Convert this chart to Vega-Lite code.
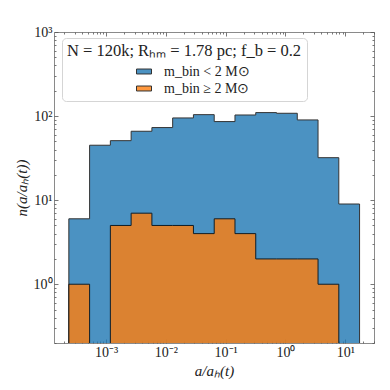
{
  "$schema": "https://vega.github.io/schema/vega-lite/v6.json",
  "width": 320,
  "height": 311,
  "autosize": {"type": "none"},
  "padding": {"left": 54, "top": 32, "right": 16, "bottom": 47},
  "background": "white",
  "config": {
    "view": {"stroke": "#8a8a8a", "strokeWidth": 1},
    "font": "Liberation Serif",
    "axis": {
      "grid": false,
      "domain": false,
      "tickColor": "#555",
      "tickWidth": 0.8,
      "labelFont": "Liberation Serif",
      "labelFontSize": 14,
      "labelColor": "#222",
      "titleFont": "Liberation Serif",
      "titleFontSize": 15,
      "titleFontWeight": "normal",
      "titleFontStyle": "italic",
      "titleColor": "#222"
    }
  },
  "datasets": {
    "hist": [
      {"a": 0.0002388, "n": 6, "s": "m_bin < 2 M⊙", "seg": 1},
      {"a": 0.0005311, "n": 45, "s": "m_bin < 2 M⊙", "seg": 1},
      {"a": 0.0011815, "n": 51, "s": "m_bin < 2 M⊙", "seg": 1},
      {"a": 0.002628, "n": 66, "s": "m_bin < 2 M⊙", "seg": 1},
      {"a": 0.005845, "n": 73, "s": "m_bin < 2 M⊙", "seg": 1},
      {"a": 0.013, "n": 95, "s": "m_bin < 2 M⊙", "seg": 1},
      {"a": 0.02892, "n": 104, "s": "m_bin < 2 M⊙", "seg": 1},
      {"a": 0.06433, "n": 86, "s": "m_bin < 2 M⊙", "seg": 1},
      {"a": 0.1431, "n": 103, "s": "m_bin < 2 M⊙", "seg": 1},
      {"a": 0.3183, "n": 110, "s": "m_bin < 2 M⊙", "seg": 1},
      {"a": 0.7079, "n": 108, "s": "m_bin < 2 M⊙", "seg": 1},
      {"a": 1.5746, "n": 90, "s": "m_bin < 2 M⊙", "seg": 1},
      {"a": 3.503, "n": 32, "s": "m_bin < 2 M⊙", "seg": 1},
      {"a": 7.791, "n": 9, "s": "m_bin < 2 M⊙", "seg": 1},
      {"a": 17.33, "n": 9, "s": "m_bin < 2 M⊙", "seg": 1},
      {"a": 0.0002388, "n": 1, "s": "m_bin ≥ 2 M⊙", "seg": 1},
      {"a": 0.0005311, "n": 1, "s": "m_bin ≥ 2 M⊙", "seg": 1},
      {"a": 0.0011815, "n": 5, "s": "m_bin ≥ 2 M⊙", "seg": 2},
      {"a": 0.002628, "n": 7, "s": "m_bin ≥ 2 M⊙", "seg": 2},
      {"a": 0.005845, "n": 5, "s": "m_bin ≥ 2 M⊙", "seg": 2},
      {"a": 0.013, "n": 5, "s": "m_bin ≥ 2 M⊙", "seg": 2},
      {"a": 0.02892, "n": 4, "s": "m_bin ≥ 2 M⊙", "seg": 2},
      {"a": 0.06433, "n": 6, "s": "m_bin ≥ 2 M⊙", "seg": 2},
      {"a": 0.1431, "n": 4, "s": "m_bin ≥ 2 M⊙", "seg": 2},
      {"a": 0.3183, "n": 2, "s": "m_bin ≥ 2 M⊙", "seg": 2},
      {"a": 0.7079, "n": 2, "s": "m_bin ≥ 2 M⊙", "seg": 2},
      {"a": 1.5746, "n": 2, "s": "m_bin ≥ 2 M⊙", "seg": 2},
      {"a": 3.503, "n": 1, "s": "m_bin ≥ 2 M⊙", "seg": 2},
      {"a": 7.791, "n": 1, "s": "m_bin ≥ 2 M⊙", "seg": 2}
    ]
  },
  "data": {"name": "hist"},
  "layer": [
    {
      "transform": [{"filter": "datum.s == 'm_bin < 2 M⊙'"}],
      "mark": {"type": "area", "interpolate": "step-after", "opacity": 0.8, "stroke": "black", "strokeWidth": 1, "clip": true},
      "encoding": {
        "x": {
          "field": "a", "type": "quantitative",
          "scale": {"type": "log", "domain": [0.0001349, 30.2], "nice": false},
          "axis": {
            "orient": "bottom",
            "title": "a/aₕ(t)",
            "values": [0.0002,0.0003,0.0004,0.0005,0.0006,0.0007,0.0008,0.0009,0.001,0.002,0.003,0.004,0.005,0.006,0.007,0.008,0.009,0.01,0.02,0.03,0.04,0.05,0.06,0.07,0.08,0.09,0.1,0.2,0.3,0.4,0.5,0.6,0.7,0.8,0.9,1,2,3,4,5,6,7,8,9,10,20,30],
            "labelExpr": "datum.value == 0.001 ? '10⁻³' : datum.value == 0.01 ? '10⁻²' : datum.value == 0.1 ? '10⁻¹' : datum.value == 1 ? '10⁰' : datum.value == 10 ? '10¹' : ''",
            "tickSize": {"condition": {"test": "indexof([0.001,0.01,0.1,1,10], datum.value) >= 0", "value": -4}, "value": -2},
            "labelPadding": 6,
            "titlePadding": 2,
            "labelFlush": false,
            "labelOverlap": false
          }
        },
        "y": {
          "field": "n", "type": "quantitative", "stack": null,
          "scale": {"type": "log", "domain": [0.2, 1000], "nice": false},
          "axis": {
            "orient": "left",
            "title": "n(a/aₕ(t))",
            "values": [0.2,0.3,0.4,0.5,0.6,0.7,0.8,0.9,1,2,3,4,5,6,7,8,9,10,20,30,40,50,60,70,80,90,100,200,300,400,500,600,700,800,900,1000],
            "labelExpr": "datum.value == 1 ? '10⁰' : datum.value == 10 ? '10¹' : datum.value == 100 ? '10²' : datum.value == 1000 ? '10³' : ''",
            "tickSize": {"condition": {"test": "indexof([1,10,100,1000], datum.value) >= 0", "value": -4}, "value": -2},
            "labelPadding": 6,
            "titlePadding": 4,
            "labelFlush": false,
            "labelOverlap": false
          }
        },
        "y2": {"datum": 0.01},
        "color": {
          "field": "s", "type": "nominal",
          "scale": {"domain": ["m_bin < 2 M⊙", "m_bin ≥ 2 M⊙"], "range": ["#1f77b4", "#ff7f0e"]},
          "legend": {
            "orient": "none",
            "legendX": 8,
            "legendY": 6,
            "title": "N = 120k; Rₕₘ = 1.78 pc; f_b = 0.2",
            "titleLimit": 400,
            "titleFontSize": 16.5,
            "titleFontWeight": "normal",
            "titleFont": "Liberation Serif",
            "titleColor": "#222",
            "titleAnchor": "middle",
            "titlePadding": 4,
            "labelFont": "Liberation Serif",
            "labelFontSize": 14,
            "labelColor": "#222",
            "labelOffset": 12,
            "labelLimit": 300,
            "fillColor": "white",
            "strokeColor": "#d5d5d5",
            "cornerRadius": 4,
            "padding": 5,
            "rowPadding": 2,
            "symbolType": "M-1,-0.33H1V0.33H-1Z",
            "symbolSize": 225,
            "symbolStrokeColor": "#444",
            "symbolStrokeWidth": 1,
            "symbolOpacity": 0.8,
            "symbolOffset": 18
          }
        }
      }
    },
    {
      "transform": [{"filter": "datum.s == 'm_bin ≥ 2 M⊙'"}],
      "mark": {"type": "area", "interpolate": "step-after", "opacity": 0.8, "stroke": "black", "strokeWidth": 1, "clip": true},
      "encoding": {
        "x": {"field": "a", "type": "quantitative", "axis": null},
        "y": {"field": "n", "type": "quantitative", "stack": null, "axis": null},
        "y2": {"datum": 0.01},
        "detail": {"field": "seg"},
        "color": {"field": "s", "type": "nominal"}
      }
    },
    {
      "mark": {"type": "point", "opacity": 0},
      "encoding": {
        "x": {
          "field": "a", "type": "quantitative",
          "axis": {
            "orient": "top", "title": null, "labels": false,
            "values": [0.0002,0.0003,0.0004,0.0005,0.0006,0.0007,0.0008,0.0009,0.001,0.002,0.003,0.004,0.005,0.006,0.007,0.008,0.009,0.01,0.02,0.03,0.04,0.05,0.06,0.07,0.08,0.09,0.1,0.2,0.3,0.4,0.5,0.6,0.7,0.8,0.9,1,2,3,4,5,6,7,8,9,10,20,30],
            "tickSize": {"condition": {"test": "indexof([0.001,0.01,0.1,1,10], datum.value) >= 0", "value": -4}, "value": -2}
          }
        },
        "y": {
          "field": "n", "type": "quantitative",
          "axis": {
            "orient": "right", "title": null, "labels": false,
            "values": [0.2,0.3,0.4,0.5,0.6,0.7,0.8,0.9,1,2,3,4,5,6,7,8,9,10,20,30,40,50,60,70,80,90,100,200,300,400,500,600,700,800,900,1000],
            "tickSize": {"condition": {"test": "indexof([1,10,100,1000], datum.value) >= 0", "value": -4}, "value": -2}
          }
        }
      }
    }
  ],
  "resolve": {"axis": {"x": "independent", "y": "independent"}}
}
